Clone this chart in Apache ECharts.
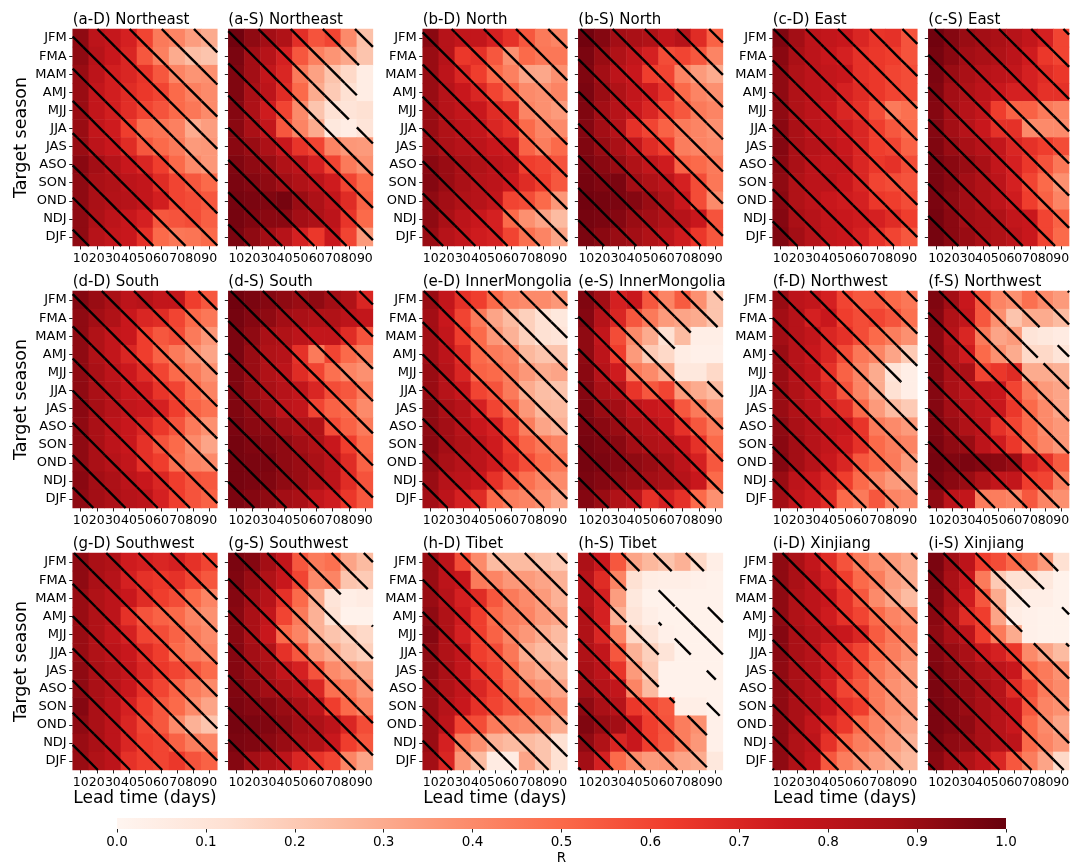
<!DOCTYPE html>
<html><head><meta charset="utf-8">
<script src="https://cdn.jsdelivr.net/npm/echarts@6/dist/echarts.min.js"></script>
<style>html,body{margin:0;padding:0;background:#fff}#c{width:1072px;height:866px}</style>
</head><body><div id="c"></div>
<script>
// ---------------- data ----------------
const leadTimes = ['10','20','30','40','50','60','70','80','90'];
const seasons = ['JFM','FMA','MAM','AMJ','MJJ','JJA','JAS','ASO','SON','OND','NDJ','DJF'];
const colorbarTicks = [0,0.1,0.2,0.3,0.4,0.5,0.6,0.7,0.8,0.9,1.0];

const aD = [
 [0.92,0.80,0.77,0.72,0.60,0.45,0.42,0.34,0.30],
 [0.92,0.82,0.76,0.70,0.55,0.43,0.30,0.24,0.22],
 [0.90,0.80,0.73,0.70,0.65,0.55,0.42,0.37,0.38],
 [0.90,0.78,0.73,0.68,0.64,0.60,0.50,0.43,0.40],
 [0.90,0.78,0.73,0.67,0.60,0.56,0.50,0.46,0.40],
 [0.90,0.78,0.74,0.62,0.48,0.47,0.43,0.30,0.34],
 [0.90,0.80,0.76,0.68,0.55,0.50,0.45,0.35,0.36],
 [0.93,0.88,0.82,0.76,0.70,0.62,0.50,0.40,0.36],
 [0.92,0.86,0.84,0.80,0.78,0.68,0.60,0.55,0.50],
 [0.92,0.86,0.83,0.82,0.78,0.73,0.60,0.58,0.55],
 [0.92,0.85,0.80,0.76,0.72,0.55,0.56,0.58,0.53],
 [0.92,0.82,0.78,0.76,0.66,0.50,0.46,0.47,0.50]];
const aS = [
 [0.98,0.92,0.88,0.84,0.67,0.56,0.60,0.40,0.23],
 [0.96,0.88,0.82,0.72,0.55,0.43,0.37,0.31,0.22],
 [0.95,0.88,0.78,0.70,0.45,0.33,0.22,0.15,0.05],
 [0.95,0.86,0.80,0.68,0.50,0.30,0.20,0.12,0.05],
 [0.94,0.85,0.74,0.60,0.40,0.22,0.12,0.10,0.12],
 [0.93,0.86,0.78,0.55,0.42,0.30,0.08,0.05,0.10],
 [0.93,0.90,0.85,0.76,0.65,0.60,0.42,0.36,0.35],
 [0.95,0.92,0.90,0.84,0.80,0.72,0.60,0.45,0.38],
 [0.96,0.94,0.92,0.88,0.84,0.80,0.74,0.60,0.50],
 [0.97,0.96,0.95,0.97,0.90,0.85,0.78,0.68,0.52],
 [0.97,0.95,0.93,0.93,0.88,0.85,0.80,0.65,0.50],
 [0.96,0.92,0.88,0.82,0.72,0.64,0.76,0.60,0.35]];
const bD = [
 [0.93,0.82,0.78,0.78,0.72,0.66,0.55,0.45,0.42],
 [0.90,0.82,0.64,0.66,0.55,0.38,0.50,0.46,0.46],
 [0.90,0.80,0.70,0.62,0.50,0.43,0.32,0.31,0.38],
 [0.90,0.82,0.76,0.70,0.60,0.52,0.40,0.38,0.42],
 [0.90,0.82,0.78,0.76,0.68,0.66,0.42,0.38,0.35],
 [0.90,0.84,0.80,0.78,0.70,0.66,0.50,0.42,0.40],
 [0.90,0.85,0.82,0.80,0.76,0.74,0.52,0.44,0.50],
 [0.93,0.90,0.86,0.84,0.80,0.78,0.62,0.60,0.56],
 [0.94,0.90,0.86,0.82,0.80,0.75,0.68,0.62,0.55],
 [0.92,0.88,0.84,0.82,0.78,0.60,0.58,0.50,0.36],
 [0.92,0.86,0.80,0.76,0.72,0.50,0.38,0.32,0.25],
 [0.90,0.82,0.78,0.74,0.72,0.60,0.48,0.42,0.32]];
const bS = [
 [0.98,0.94,0.88,0.86,0.84,0.78,0.82,0.68,0.52],
 [0.96,0.90,0.84,0.78,0.72,0.58,0.60,0.55,0.42],
 [0.95,0.88,0.80,0.76,0.62,0.60,0.42,0.35,0.30],
 [0.96,0.90,0.84,0.78,0.74,0.66,0.50,0.42,0.38],
 [0.95,0.88,0.82,0.76,0.70,0.60,0.55,0.45,0.42],
 [0.94,0.88,0.82,0.66,0.60,0.52,0.45,0.42,0.38],
 [0.95,0.90,0.86,0.78,0.68,0.62,0.44,0.42,0.40],
 [0.96,0.93,0.90,0.84,0.78,0.74,0.52,0.50,0.45],
 [0.97,0.95,0.96,0.88,0.84,0.80,0.72,0.58,0.46],
 [0.98,0.97,0.96,0.94,0.90,0.84,0.76,0.58,0.40],
 [0.97,0.96,0.94,0.90,0.88,0.84,0.82,0.76,0.56],
 [0.96,0.93,0.90,0.88,0.84,0.80,0.74,0.64,0.55]];
const cD = [
 [0.95,0.88,0.80,0.78,0.76,0.70,0.65,0.66,0.56],
 [0.93,0.86,0.80,0.76,0.72,0.66,0.64,0.62,0.56],
 [0.92,0.84,0.80,0.78,0.76,0.66,0.64,0.60,0.58],
 [0.92,0.84,0.80,0.78,0.72,0.68,0.64,0.60,0.58],
 [0.92,0.84,0.80,0.76,0.70,0.66,0.58,0.45,0.48],
 [0.93,0.86,0.80,0.78,0.74,0.70,0.62,0.55,0.50],
 [0.94,0.86,0.82,0.80,0.76,0.70,0.62,0.60,0.52],
 [0.93,0.86,0.80,0.78,0.78,0.70,0.64,0.66,0.58],
 [0.92,0.84,0.80,0.80,0.76,0.70,0.60,0.58,0.56],
 [0.93,0.84,0.80,0.76,0.74,0.72,0.64,0.62,0.58],
 [0.94,0.86,0.82,0.78,0.76,0.74,0.72,0.68,0.62],
 [0.95,0.88,0.82,0.78,0.76,0.72,0.66,0.60,0.55]];
const cS = [
 [0.98,0.94,0.90,0.88,0.86,0.82,0.78,0.72,0.60],
 [0.97,0.93,0.88,0.86,0.84,0.80,0.74,0.64,0.60],
 [0.96,0.90,0.86,0.82,0.80,0.78,0.72,0.68,0.64],
 [0.95,0.88,0.84,0.80,0.76,0.72,0.72,0.66,0.66],
 [0.94,0.88,0.82,0.78,0.62,0.52,0.52,0.45,0.42],
 [0.94,0.88,0.82,0.76,0.66,0.66,0.40,0.40,0.40],
 [0.95,0.90,0.86,0.82,0.78,0.70,0.66,0.62,0.58],
 [0.96,0.93,0.90,0.86,0.78,0.72,0.64,0.56,0.46],
 [0.96,0.93,0.88,0.84,0.80,0.72,0.60,0.50,0.38],
 [0.96,0.92,0.88,0.84,0.80,0.74,0.62,0.52,0.42],
 [0.97,0.93,0.88,0.86,0.84,0.78,0.76,0.60,0.52],
 [0.97,0.93,0.90,0.86,0.84,0.80,0.76,0.60,0.50]];
const dD = [
 [0.94,0.90,0.86,0.80,0.82,0.78,0.78,0.62,0.55],
 [0.92,0.88,0.84,0.76,0.70,0.68,0.60,0.50,0.46],
 [0.92,0.84,0.78,0.76,0.62,0.55,0.58,0.45,0.36],
 [0.92,0.84,0.78,0.70,0.62,0.52,0.45,0.38,0.32],
 [0.92,0.86,0.80,0.75,0.68,0.60,0.50,0.45,0.38],
 [0.92,0.86,0.82,0.76,0.74,0.65,0.60,0.50,0.42],
 [0.93,0.87,0.82,0.78,0.76,0.72,0.62,0.52,0.48],
 [0.92,0.86,0.80,0.76,0.70,0.64,0.56,0.45,0.38],
 [0.92,0.86,0.80,0.76,0.66,0.56,0.50,0.40,0.32],
 [0.92,0.86,0.82,0.78,0.66,0.62,0.48,0.42,0.40],
 [0.93,0.88,0.85,0.80,0.76,0.70,0.62,0.56,0.55],
 [0.92,0.88,0.85,0.82,0.80,0.72,0.62,0.56,0.52]];
const dS = [
 [0.98,0.96,0.94,0.92,0.90,0.92,0.88,0.84,0.70],
 [0.97,0.94,0.92,0.88,0.86,0.84,0.84,0.80,0.78],
 [0.96,0.92,0.86,0.84,0.80,0.78,0.78,0.68,0.56],
 [0.96,0.90,0.84,0.82,0.66,0.45,0.60,0.50,0.44],
 [0.95,0.90,0.84,0.80,0.68,0.60,0.48,0.42,0.38],
 [0.95,0.90,0.86,0.82,0.78,0.70,0.58,0.55,0.45],
 [0.95,0.92,0.88,0.80,0.78,0.60,0.52,0.50,0.40],
 [0.96,0.93,0.92,0.88,0.84,0.84,0.58,0.52,0.45],
 [0.97,0.95,0.94,0.92,0.88,0.84,0.76,0.62,0.50],
 [0.97,0.96,0.96,0.92,0.90,0.86,0.80,0.68,0.52],
 [0.97,0.96,0.95,0.92,0.90,0.86,0.80,0.68,0.56],
 [0.96,0.94,0.92,0.88,0.86,0.78,0.74,0.64,0.55]];
const eD = [
 [0.90,0.78,0.66,0.62,0.50,0.42,0.40,0.40,0.36],
 [0.88,0.76,0.60,0.45,0.32,0.25,0.18,0.12,0.08],
 [0.88,0.78,0.62,0.50,0.36,0.28,0.18,0.12,0.10],
 [0.88,0.80,0.68,0.50,0.45,0.42,0.26,0.22,0.22],
 [0.90,0.82,0.70,0.52,0.50,0.44,0.36,0.30,0.32],
 [0.90,0.82,0.76,0.60,0.56,0.45,0.30,0.24,0.22],
 [0.92,0.86,0.82,0.72,0.60,0.52,0.36,0.26,0.25],
 [0.92,0.88,0.82,0.76,0.72,0.60,0.44,0.32,0.28],
 [0.93,0.88,0.84,0.80,0.74,0.64,0.52,0.46,0.42],
 [0.92,0.86,0.82,0.80,0.74,0.66,0.58,0.50,0.46],
 [0.90,0.82,0.80,0.76,0.66,0.56,0.48,0.42,0.40],
 [0.88,0.80,0.72,0.68,0.50,0.44,0.42,0.38,0.32]];
const eS = [
 [0.95,0.88,0.72,0.76,0.55,0.42,0.54,0.38,0.22],
 [0.94,0.82,0.70,0.55,0.45,0.35,0.32,0.30,0.22],
 [0.92,0.78,0.58,0.40,0.30,0.12,0.25,0.04,0.04],
 [0.92,0.80,0.62,0.35,0.20,0.15,0.05,0.03,0.03],
 [0.93,0.82,0.74,0.45,0.40,0.30,0.08,0.08,0.15],
 [0.94,0.86,0.82,0.65,0.55,0.60,0.35,0.30,0.25],
 [0.95,0.90,0.88,0.80,0.76,0.74,0.55,0.45,0.35],
 [0.96,0.93,0.90,0.84,0.82,0.76,0.66,0.55,0.45],
 [0.97,0.95,0.93,0.88,0.84,0.82,0.76,0.66,0.50],
 [0.97,0.96,0.94,0.92,0.90,0.86,0.80,0.72,0.55],
 [0.96,0.94,0.92,0.90,0.88,0.86,0.82,0.76,0.50],
 [0.94,0.90,0.84,0.80,0.66,0.72,0.66,0.50,0.38]];
const fD = [
 [0.90,0.80,0.78,0.72,0.60,0.55,0.55,0.50,0.46],
 [0.88,0.82,0.72,0.76,0.62,0.58,0.60,0.56,0.48],
 [0.88,0.82,0.78,0.70,0.66,0.58,0.50,0.44,0.38],
 [0.90,0.82,0.76,0.70,0.58,0.46,0.42,0.32,0.20],
 [0.90,0.82,0.78,0.66,0.52,0.42,0.30,0.10,0.04],
 [0.90,0.84,0.78,0.70,0.56,0.42,0.30,0.12,0.04],
 [0.90,0.84,0.80,0.72,0.68,0.50,0.35,0.25,0.20],
 [0.92,0.86,0.82,0.78,0.76,0.65,0.45,0.40,0.35],
 [0.93,0.88,0.82,0.78,0.74,0.66,0.50,0.44,0.42],
 [0.94,0.88,0.82,0.76,0.70,0.55,0.50,0.45,0.35],
 [0.90,0.80,0.76,0.70,0.62,0.50,0.42,0.35,0.32],
 [0.88,0.78,0.74,0.68,0.50,0.45,0.55,0.42,0.40]];
const fS = [
 [0.95,0.88,0.76,0.55,0.42,0.38,0.48,0.40,0.35],
 [0.94,0.84,0.78,0.55,0.38,0.22,0.30,0.30,0.25],
 [0.93,0.82,0.70,0.45,0.32,0.35,0.10,0.08,0.06],
 [0.93,0.84,0.74,0.50,0.38,0.30,0.15,0.15,0.10],
 [0.93,0.86,0.86,0.60,0.64,0.68,0.30,0.30,0.28],
 [0.94,0.86,0.80,0.78,0.76,0.60,0.45,0.35,0.32],
 [0.94,0.88,0.82,0.78,0.76,0.64,0.50,0.40,0.32],
 [0.95,0.90,0.84,0.80,0.66,0.60,0.50,0.40,0.36],
 [0.96,0.92,0.90,0.80,0.74,0.64,0.50,0.42,0.36],
 [0.97,0.95,0.96,0.94,0.93,0.90,0.72,0.66,0.54],
 [0.96,0.93,0.90,0.84,0.78,0.78,0.62,0.60,0.44],
 [0.92,0.80,0.78,0.44,0.44,0.42,0.55,0.42,0.38]];
const gD = [
 [0.92,0.86,0.84,0.74,0.72,0.70,0.72,0.66,0.60],
 [0.92,0.86,0.82,0.72,0.66,0.64,0.66,0.60,0.55],
 [0.90,0.84,0.80,0.76,0.68,0.62,0.58,0.50,0.42],
 [0.90,0.84,0.80,0.66,0.56,0.52,0.50,0.42,0.38],
 [0.90,0.84,0.78,0.72,0.60,0.58,0.52,0.45,0.40],
 [0.90,0.84,0.80,0.76,0.68,0.62,0.50,0.45,0.42],
 [0.92,0.86,0.82,0.78,0.70,0.64,0.60,0.56,0.50],
 [0.92,0.86,0.82,0.76,0.66,0.60,0.52,0.45,0.40],
 [0.94,0.86,0.80,0.72,0.62,0.55,0.50,0.40,0.32],
 [0.92,0.86,0.80,0.70,0.60,0.55,0.40,0.28,0.22],
 [0.90,0.86,0.80,0.70,0.62,0.60,0.52,0.44,0.42],
 [0.90,0.84,0.80,0.66,0.62,0.60,0.64,0.56,0.52]];
const gS = [
 [0.96,0.94,0.88,0.78,0.55,0.45,0.48,0.32,0.25],
 [0.95,0.90,0.84,0.76,0.60,0.40,0.42,0.22,0.20],
 [0.94,0.88,0.82,0.66,0.50,0.30,0.10,0.04,0.06],
 [0.93,0.86,0.78,0.60,0.45,0.28,0.12,0.02,0.02],
 [0.93,0.86,0.76,0.50,0.42,0.28,0.22,0.18,0.15],
 [0.94,0.88,0.84,0.66,0.55,0.36,0.30,0.22,0.18],
 [0.94,0.90,0.86,0.78,0.72,0.56,0.40,0.35,0.30],
 [0.95,0.92,0.88,0.84,0.80,0.70,0.48,0.45,0.36],
 [0.96,0.94,0.93,0.90,0.86,0.80,0.62,0.50,0.42],
 [0.97,0.96,0.95,0.92,0.88,0.85,0.80,0.70,0.58],
 [0.96,0.95,0.93,0.90,0.86,0.84,0.76,0.62,0.55],
 [0.94,0.88,0.84,0.80,0.70,0.65,0.60,0.42,0.32]];
const hD = [
 [0.90,0.80,0.58,0.40,0.25,0.25,0.25,0.22,0.20],
 [0.90,0.80,0.76,0.45,0.42,0.36,0.35,0.32,0.28],
 [0.90,0.82,0.72,0.68,0.55,0.45,0.40,0.35,0.28],
 [0.92,0.84,0.74,0.62,0.50,0.44,0.42,0.35,0.32],
 [0.94,0.84,0.72,0.62,0.52,0.42,0.36,0.30,0.25],
 [0.92,0.84,0.78,0.62,0.58,0.46,0.30,0.25,0.22],
 [0.92,0.86,0.78,0.66,0.60,0.50,0.35,0.30,0.26],
 [0.90,0.84,0.78,0.70,0.62,0.52,0.42,0.36,0.32],
 [0.90,0.82,0.76,0.66,0.60,0.55,0.50,0.46,0.40],
 [0.90,0.80,0.60,0.58,0.45,0.42,0.40,0.36,0.30],
 [0.90,0.72,0.45,0.38,0.28,0.25,0.25,0.22,0.12],
 [0.88,0.70,0.36,0.25,0.06,0.06,0.32,0.22,0.12]];
const hS = [
 [0.85,0.75,0.55,0.32,0.26,0.22,0.28,0.15,0.04],
 [0.82,0.68,0.42,0.12,0.05,0.04,0.04,0.03,0.02],
 [0.82,0.72,0.34,0.08,0.02,0.02,0.02,0.02,0.02],
 [0.84,0.72,0.28,0.10,0.04,0.02,0.02,0.02,0.02],
 [0.84,0.70,0.42,0.15,0.10,0.03,0.02,0.02,0.02],
 [0.84,0.78,0.55,0.28,0.18,0.10,0.02,0.02,0.02],
 [0.86,0.80,0.65,0.35,0.20,0.02,0.02,0.02,0.02],
 [0.88,0.82,0.78,0.42,0.25,0.02,0.02,0.02,0.02],
 [0.92,0.86,0.82,0.64,0.60,0.55,0.04,0.04,0.02],
 [0.95,0.90,0.88,0.76,0.62,0.56,0.44,0.38,0.03],
 [0.92,0.84,0.70,0.76,0.62,0.55,0.44,0.36,0.03],
 [0.88,0.72,0.50,0.40,0.35,0.36,0.32,0.30,0.08]];
const iD = [
 [0.92,0.86,0.78,0.68,0.56,0.45,0.38,0.35,0.30],
 [0.92,0.86,0.80,0.72,0.62,0.50,0.44,0.34,0.30],
 [0.92,0.84,0.80,0.76,0.66,0.55,0.40,0.32,0.25],
 [0.92,0.84,0.80,0.74,0.66,0.60,0.50,0.42,0.38],
 [0.94,0.86,0.82,0.78,0.76,0.70,0.54,0.46,0.42],
 [0.93,0.86,0.82,0.72,0.66,0.60,0.50,0.44,0.38],
 [0.92,0.86,0.82,0.74,0.66,0.58,0.46,0.40,0.35],
 [0.92,0.86,0.82,0.72,0.60,0.55,0.45,0.38,0.34],
 [0.92,0.86,0.82,0.76,0.66,0.62,0.45,0.38,0.34],
 [0.92,0.86,0.78,0.70,0.64,0.50,0.42,0.36,0.32],
 [0.92,0.84,0.80,0.66,0.52,0.44,0.40,0.34,0.28],
 [0.92,0.84,0.78,0.55,0.44,0.38,0.34,0.30,0.26]];
const iS = [
 [0.96,0.88,0.80,0.62,0.58,0.50,0.46,0.35,0.12],
 [0.95,0.86,0.76,0.45,0.20,0.12,0.12,0.08,0.02],
 [0.94,0.86,0.74,0.55,0.30,0.08,0.04,0.04,0.02],
 [0.93,0.84,0.68,0.62,0.32,0.05,0.03,0.02,0.02],
 [0.92,0.86,0.80,0.62,0.45,0.30,0.03,0.02,0.02],
 [0.94,0.90,0.86,0.76,0.72,0.64,0.40,0.32,0.25],
 [0.95,0.92,0.88,0.84,0.80,0.76,0.50,0.45,0.38],
 [0.96,0.93,0.90,0.86,0.82,0.68,0.58,0.45,0.40],
 [0.96,0.94,0.90,0.86,0.82,0.76,0.55,0.42,0.38],
 [0.96,0.94,0.92,0.86,0.82,0.76,0.50,0.40,0.32],
 [0.95,0.92,0.90,0.86,0.82,0.80,0.50,0.42,0.36],
 [0.93,0.88,0.84,0.78,0.70,0.55,0.44,0.32,0.15]];

// cells without significance hatching: [lead time, season]
const nsAS = [['90','MAM'],['90','AMJ'],['90','MJJ'],['80','JJA']];
const nsES = [['80','MAM'],['90','MAM'],['70','AMJ'],['80','AMJ'],['90','AMJ'],['70','MJJ'],['80','MJJ'],['90','MJJ']];
const nsFD = [['90','JJA']];
const nsFS = [['80','MAM'],['90','MAM'],['80','AMJ']];
const nsGS = [['80','MAM'],['90','MAM'],['80','AMJ'],['90','AMJ']];
const nsHS = [['90','JFM'],['40','FMA'],['50','FMA'],['60','FMA'],['70','FMA'],['80','FMA'],['90','FMA'],
 ['40','MAM'],['50','MAM'],['70','MAM'],['80','MAM'],['90','MAM'],['40','AMJ'],['50','AMJ'],['60','MJJ'],
 ['60','JJA'],['80','JJA'],['60','JAS'],['70','JAS'],['80','JAS'],['60','ASO'],['70','ASO'],['80','ASO'],['90','ASO'],
 ['70','SON'],['80','SON'],['90','OND'],['90','NDJ'],['90','DJF']];
const nsIS = [['90','FMA'],['80','MAM'],['90','MAM'],['70','AMJ'],['80','AMJ'],['70','MJJ'],['80','MJJ'],['90','MJJ']];

const panels = [
 {title:'(a-D) Northeast', r:aD, ns:[]}, {title:'(a-S) Northeast', r:aS, ns:nsAS},
 {title:'(b-D) North', r:bD, ns:[]}, {title:'(b-S) North', r:bS, ns:[]},
 {title:'(c-D) East', r:cD, ns:[]}, {title:'(c-S) East', r:cS, ns:[]},
 {title:'(d-D) South', r:dD, ns:[]}, {title:'(d-S) South', r:dS, ns:[]},
 {title:'(e-D) InnerMongolia', r:eD, ns:[]}, {title:'(e-S) InnerMongolia', r:eS, ns:nsES},
 {title:'(f-D) Northwest', r:fD, ns:nsFD}, {title:'(f-S) Northwest', r:fS, ns:nsFS},
 {title:'(g-D) Southwest', r:gD, ns:[]}, {title:'(g-S) Southwest', r:gS, ns:nsGS},
 {title:'(h-D) Tibet', r:hD, ns:[]}, {title:'(h-S) Tibet', r:hS, ns:nsHS},
 {title:'(i-D) Xinjiang', r:iD, ns:[]}, {title:'(i-S) Xinjiang', r:iS, ns:nsIS}
];

// ---------------- styling / layout ----------------
const REDS = ['#fff5f0','#fee0d2','#fcbba1','#fc9272','#fb6a4a','#ef3b2c','#cb181d','#a50f15','#67000d'];
const FONT = 'DejaVu Sans';
const LEFTS = [72.7, 228.3, 422.7, 578.3, 772.7, 928.3];
const TOPS = [29, 291, 553];
const PW = 144.6, PH = 217;
const HATCH_STEP = 32.2, HATCH_OFF = 4;

function hatchRender(params, api) {
  const c = api.coord([api.value(0), api.value(1)]);
  const s = api.size([1, 1]);
  const x0 = c[0] - s[0] / 2, x1 = c[0] + s[0] / 2, y0 = c[1] - s[1] / 2, y1 = c[1] + s[1] / 2;
  const children = [];
  const kmin = Math.floor((x0 - y1 - HATCH_OFF) / HATCH_STEP) - 1;
  const kmax = Math.ceil((x1 - y0 - HATCH_OFF) / HATCH_STEP) + 1;
  for (let k = kmin; k <= kmax; k++) {
    const d = HATCH_OFF + k * HATCH_STEP;
    const xs = Math.max(x0, y0 + d), xe = Math.min(x1, y1 + d);
    if (xe - xs > 0.05) {
      children.push({type: 'line', shape: {x1: xs, y1: xs - d, x2: xe, y2: xe - d},
        style: {stroke: '#000', lineWidth: 2.4, lineCap: 'butt'}});
    }
  }
  return {type: 'group', children};
}

const grid = [], xAxis = [], yAxis = [], series = [], title = [], heatIdx = [];
panels.forEach((p, i) => {
  const row = Math.floor(i / 6), col = i % 6;
  const isD = col % 2 === 0;
  grid.push({left: LEFTS[col], top: TOPS[row], width: PW, height: PH});
  title.push({text: p.title, left: LEFTS[col], top: TOPS[row] - 16.5, padding: 0,
    textStyle: {fontSize: 15, fontWeight: 'normal', fontFamily: FONT, color: '#000'}});
  xAxis.push({type: 'category', gridIndex: i, data: leadTimes,
    axisLine: {show: false}, splitLine: {show: false},
    axisTick: {show: true, alignWithLabel: true, length: 3.5, lineStyle: {color: '#222'}},
    axisLabel: {interval: 0, margin: 6, fontSize: 12.5, color: '#000', fontFamily: FONT}});
  yAxis.push({type: 'category', gridIndex: i, data: seasons, inverse: true,
    axisLine: {show: false}, splitLine: {show: false},
    axisTick: {show: true, alignWithLabel: true, length: 3.5, lineStyle: {color: '#222'}},
    axisLabel: {show: isD, interval: 0, margin: 6, fontSize: 13, color: '#000', fontFamily: FONT}});
  const cells = [];
  p.r.forEach((rowVals, yi) => rowVals.forEach((v, xi) => cells.push([xi, yi, v])));
  heatIdx.push(series.length);
  series.push({type: 'heatmap', xAxisIndex: i, yAxisIndex: i, data: cells, silent: true,
    progressive: 0, itemStyle: {borderWidth: 0}, emphasis: {disabled: true}});
  const nsSet = new Set(p.ns.map(a => a[0] + '|' + a[1]));
  const sig = [];
  seasons.forEach((s, yi) => leadTimes.forEach((l, xi) => { if (!nsSet.has(l + '|' + s)) sig.push([xi, yi]); }));
  series.push({type: 'custom', xAxisIndex: i, yAxisIndex: i, data: sig, silent: true, z: 5,
    renderItem: hatchRender});
});

// colorbar
const CB = grid.length;
grid.push({left: 117, top: 818, width: 889, height: 11});
xAxis.push({type: 'value', gridIndex: CB, min: colorbarTicks[0], max: colorbarTicks[colorbarTicks.length - 1], interval: 0.1,
  axisLine: {show: false}, splitLine: {show: false},
  axisTick: {show: true, length: 3.5, lineStyle: {color: '#222'}},
  axisLabel: {margin: 6, fontSize: 13.5, color: '#000', fontFamily: FONT, formatter: v => v.toFixed(1)}});
yAxis.push({type: 'value', gridIndex: CB, min: 0, max: 1, show: false});
series.push({type: 'custom', xAxisIndex: CB, yAxisIndex: CB, data: [[0, 0]], silent: true,
  renderItem: (params, api) => {
    const p0 = api.coord([0, 0]), p1 = api.coord([1, 1]);
    return {type: 'rect', shape: {x: p0[0], y: p1[1], width: p1[0] - p0[0], height: p0[1] - p1[1]},
      style: {fill: new echarts.graphic.LinearGradient(0, 0, 1, 0,
        REDS.map((c, k) => ({offset: k / (REDS.length - 1), color: c})))}};
  }});

const graphic = [];
TOPS.forEach(t => graphic.push({type: 'text', x: 21, y: t + PH / 2, rotation: Math.PI / 2, silent: true,
  style: {text: 'Target season', fontSize: 17.5, fontFamily: FONT, fill: '#000', align: 'center', verticalAlign: 'middle'}}));
[0, 2, 4].forEach(c => graphic.push({type: 'text', x: LEFTS[c] + PW / 2, y: 799, silent: true,
  style: {text: 'Lead time (days)', fontSize: 17, fontFamily: FONT, fill: '#000', align: 'center', verticalAlign: 'middle'}}));
graphic.push({type: 'text', x: 117 + 889 / 2, y: 858, silent: true,
  style: {text: 'R', fontSize: 13.5, fontFamily: FONT, fill: '#000', align: 'center', verticalAlign: 'middle'}});

const chart = echarts.init(document.getElementById('c'), null, {renderer: 'canvas'});
chart.setOption({
  animation: false,
  backgroundColor: '#fff',
  textStyle: {fontFamily: FONT},
  title, grid, xAxis, yAxis, series, graphic,
  visualMap: {type: 'continuous', show: false, min: 0, max: 1, seriesIndex: heatIdx,
    inRange: {color: REDS}}
});
</script></body></html>
